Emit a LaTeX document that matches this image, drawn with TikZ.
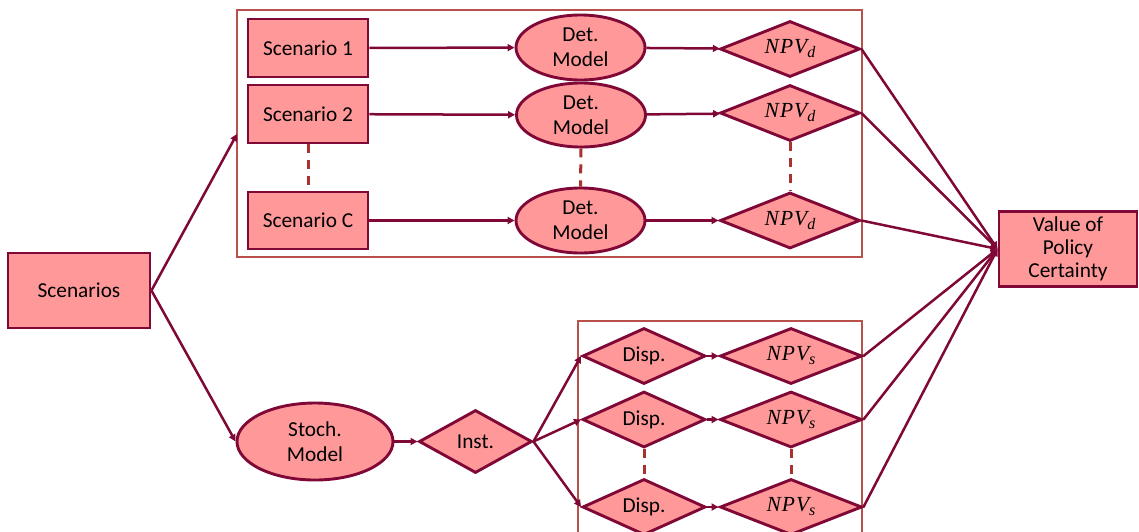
\documentclass[tikz,border=0pt]{standalone}
\usepackage{fontspec}
\setmainfont{Carlito}
\newfontfamily\npvfont{Liberation Serif}
\usetikzlibrary{shapes.geometric,arrows.meta}
\definecolor{fillc}{HTML}{FF9999}
\definecolor{linec}{HTML}{800836}
\definecolor{boxc}{HTML}{B8514C}
\definecolor{dashc}{HTML}{A8322E}
\newcommand{\npv}[1]{{\npvfont\itshape\fontsize{21.5}{24}\selectfont N\kern1pt P\kern1pt V\raisebox{-4pt}{\fontsize{16}{18}\selectfont #1}}}
\tikzset{
  base/.style={draw=linec, line width=2.9pt, fill=fillc, inner sep=0pt, align=center,
    font=\fontsize{21.3}{25}\selectfont, text=black},
  rectnode/.style={base, rectangle},
  ellnode/.style={base, ellipse},
  dianode/.style={base, diamond, aspect=2.5},
  conn/.style={draw=linec, line width=2.5pt, -{Triangle[length=7pt,width=7pt]}},
  frame/.style={draw=boxc, line width=1.5pt},
  dots/.style={draw=dashc, line width=3pt, dash pattern=on 9pt off 7pt},
}
\begin{document}
\begin{tikzpicture}[x=1pt,y=-1pt]
\useasboundingbox (0,0) rectangle (1139,531);
\clip (0,0) rectangle (1139,531);
% frames
\draw[frame] (237,10) rectangle (862,257);
\draw[frame] (578,321) rectangle (862,560);
\coordinate (upin) at (237,134);
% nodes
\node[rectnode, minimum width=142pt, minimum height=75pt] (scen) at (79,290.5) {Scenarios};
\node[rectnode, minimum width=120pt, minimum height=58pt] (s1) at (308,48) {Scenario 1};
\node[rectnode, minimum width=120pt, minimum height=58pt] (s2) at (308,114) {Scenario 2};
\node[rectnode, minimum width=120pt, minimum height=57pt] (sc) at (308,220.5) {Scenario C};
\node[ellnode, minimum width=129pt, minimum height=65pt] (d1) at (580.5,47.5) {Det.\\Model};
\node[ellnode, minimum width=129pt, minimum height=64pt] (d2) at (581,115) {Det.\\Model};
\node[ellnode, minimum width=129pt, minimum height=65pt] (d3) at (580.5,220.5) {Det.\\Model};
\node[dianode, minimum width=140pt, minimum height=56pt] (n1) at (790,49) {\npv{d}};
\node[dianode, minimum width=140pt, minimum height=56pt] (n2) at (790,113) {\npv{d}};
\node[dianode, minimum width=140pt, minimum height=56pt] (n3) at (790,220.5) {\npv{d}};
\node[rectnode, minimum width=138pt, minimum height=75pt, font=\fontsize{21.3}{23}\selectfont] (val) at (1068,249) {Value of\\Policy\\Certainty};
\node[ellnode, minimum width=156pt, minimum height=77pt] (st) at (315,441.5) {Stoch.\\Model};
\node[dianode, aspect=1.8, minimum width=113pt, minimum height=63pt] (inst) at (475.5,441.5) {Inst.};
\node[dianode, aspect=2.2, minimum width=123pt, minimum height=56pt] (p1) at (644,356) {Disp.};
\node[dianode, aspect=2.2, minimum width=123pt, minimum height=56pt] (p2) at (644,419.5) {Disp.};
\node[dianode, aspect=2.2, minimum width=123pt, minimum height=56pt] (p3) at (644,507) {Disp.};
\node[dianode, minimum width=142pt, minimum height=56pt] (q1) at (791,356) {\npv{s}};
\node[dianode, minimum width=142pt, minimum height=56pt] (q2) at (791,419.5) {\npv{s}};
\node[dianode, minimum width=142pt, minimum height=56pt] (q3) at (791,507) {\npv{s}};
% dashed links
\draw[dots] (s2.south) -- (sc.north);
\draw[dots] (d2.south) -- (d3.north);
\draw[dots] (n2.south) -- (n3.north);
\draw[dots] (p2.south) -- (p3.north);
\draw[dots] (q2.south) -- (q3.north);
% connectors
\draw[conn] (scen.east) -- (upin);
\draw[conn] (scen.east) -- (st.west);
\draw[conn] (s1) -- (d1);
\draw[conn] (s2) -- (d2);
\draw[conn] (sc) -- (d3);
\draw[conn] (d1) -- (n1);
\draw[conn] (d2) -- (n2);
\draw[conn] (d3) -- (n3);
\draw[conn] (st) -- (inst);
\draw[conn] (inst.east) -- (p1.west);
\draw[conn] (inst.east) -- (p2.west);
\draw[conn] (inst.east) -- (p3.west);
\draw[conn] (p1) -- (q1);
\draw[conn] (p2) -- (q2);
\draw[conn] (p3) -- (q3);
\foreach \n in {n1,n2,n3,q1,q2,q3}{
  \draw[conn] (\n.east) -- (val.west);
}
\end{tikzpicture}
\end{document}
